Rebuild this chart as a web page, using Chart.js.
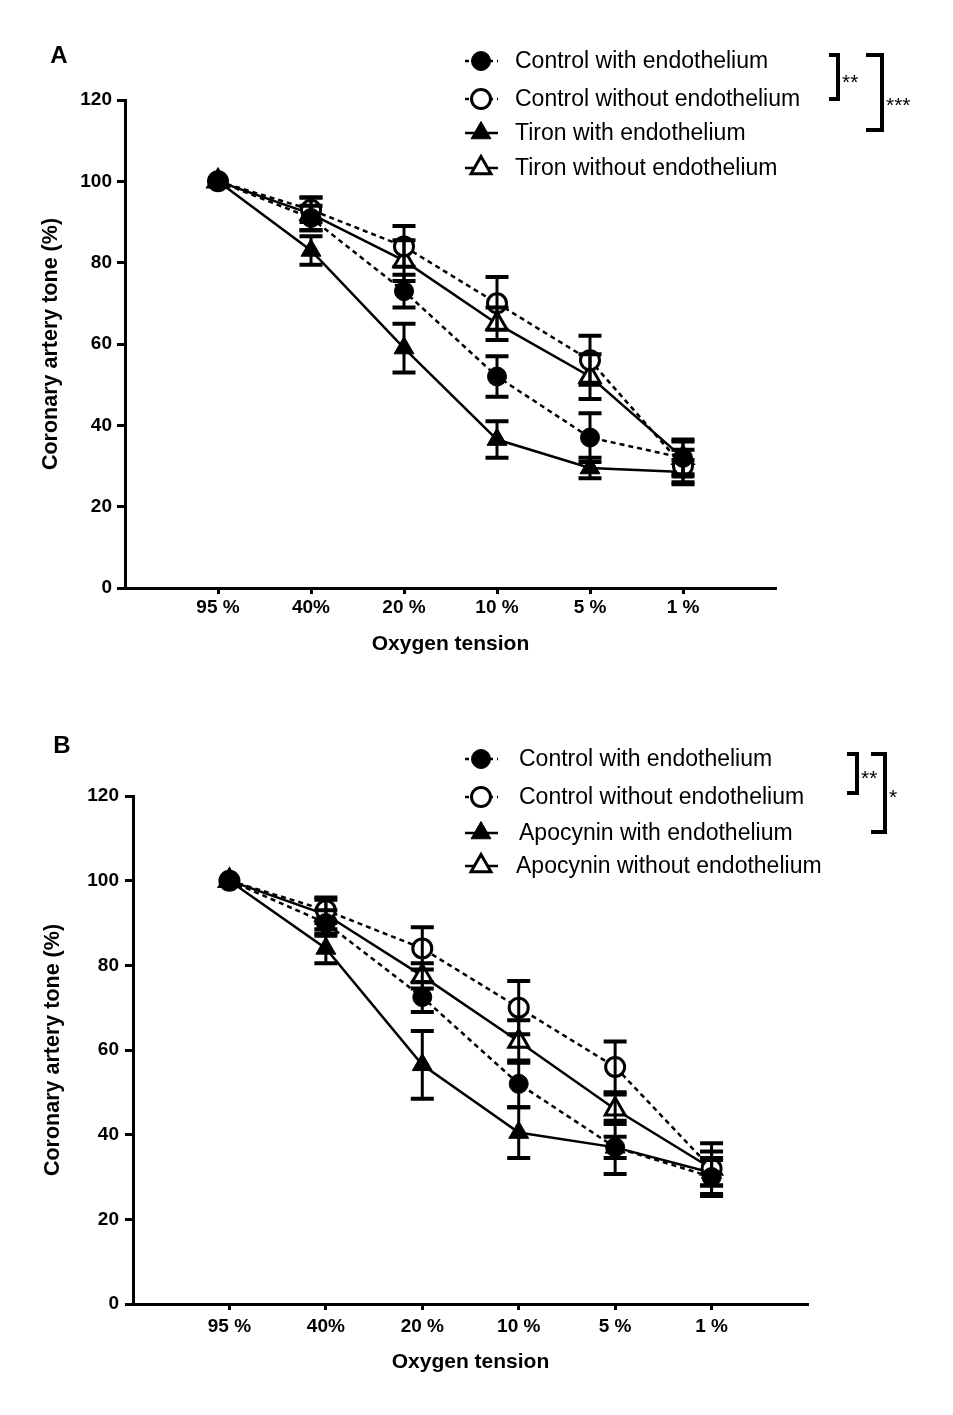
<!DOCTYPE html>
<html>
<head>
<meta charset="utf-8">
<script src="https://cdn.jsdelivr.net/npm/chart.js@4.4.1/dist/chart.umd.min.js"></script>
<style>
  body { margin: 0; background: #fff; width: 953px; height: 1415px; position: relative; overflow: hidden; }
  .box { position: absolute; left: 0; width: 953px; }
</style>
</head>
<body>
<div class="box" style="top:0;height:700px"><canvas id="chartA"></canvas></div>
<div class="box" style="top:700px;height:715px"><canvas id="chartB"></canvas></div>
<script>
// x categories (oxygen tension)
const oxygenLabels = ['95 %', '40%', '20 %', '10 %', '5 %', '1 %'];
const yTickValues = [0, 20, 40, 60, 80, 100, 120];

// panel A - means and SEM
const ctrlWithA = [100, 91, 73, 52, 37, 32];
const ctrlWithErrA = [0, 3, 4, 5, 6, 4];
const ctrlWithoutA = [100, 93, 84, 70, 56, 30];
const ctrlWithoutErrA = [0, 3, 5, 6.5, 6, 4];
const tironWith = [100, 83, 59, 36.5, 29.5, 28.5];
const tironWithErr = [0, 3.5, 6, 4.5, 2.5, 3];
const tironWithout = [100, 92, 80.5, 65, 52, 32];
const tironWithoutErr = [0, 4, 5, 4, 5.5, 4.5];

// panel B - means and SEM
const ctrlWithB = [100, 90, 72.5, 52, 37, 30];
const ctrlWithErrB = [0, 3, 3.5, 5.5, 6.3, 4.5];
const ctrlWithoutB = [100, 93, 84, 70, 56, 32];
const ctrlWithoutErrB = [0, 3, 5, 6.3, 6, 4];
const apoWith = [100, 84, 56.5, 40.5, 37, 31];
const apoWithErr = [0, 3.5, 8, 6, 2.5, 3];
const apoWithout = [100, 92, 77.5, 62, 46, 32];
const apoWithoutErr = [0, 3.5, 3, 5, 3.5, 6];

const FONT = "'Liberation Sans', Arial, sans-serif";

function toPoints(arr) {
  return arr.map((v, i) => ({ x: i + 1, y: v }));
}

function series(label, values, errors, style) {
  const open = style.open;
  return {
    label: label,
    data: toPoints(values),
    errors: errors,
    borderColor: '#000',
    borderWidth: 2.5,
    borderDash: style.dashed ? [5, 4] : [],
    pointStyle: style.shape,
    pointRadius: style.shape === 'triangle' ? 11.5 : 9.5,
    pointBackgroundColor: open ? '#fff' : '#000',
    pointBorderColor: '#000',
    pointBorderWidth: open ? 3 : 1,
    fill: false,
    tension: 0
  };
}

// error bars drawn through the chart's own scales
const errorBars = {
  id: 'errorBars',
  afterDatasetsDraw(chart) {
    const ctx = chart.ctx;
    const xs = chart.scales.x, ys = chart.scales.y;
    ctx.save();
    ctx.strokeStyle = '#000';
    chart.data.datasets.forEach(ds => {
      ds.data.forEach((p, i) => {
        const e = ds.errors[i];
        if (!e) return;
        const x = xs.getPixelForValue(p.x);
        const y1 = ys.getPixelForValue(p.y + e);
        const y2 = ys.getPixelForValue(p.y - e);
        ctx.lineWidth = 3;
        ctx.beginPath();
        ctx.moveTo(x, y1); ctx.lineTo(x, y2);
        ctx.stroke();
        ctx.lineWidth = 4;
        ctx.beginPath();
        ctx.moveTo(x - 11.5, y1); ctx.lineTo(x + 11.5, y1);
        ctx.moveTo(x - 11.5, y2); ctx.lineTo(x + 11.5, y2);
        ctx.stroke();
      });
    });
    ctx.restore();
  }
};

// panel letter, legend and significance brackets
const decor = {
  id: 'decor',
  afterDraw(chart, args, opts) {
    const ctx = chart.ctx;
    ctx.save();
    ctx.fillStyle = '#000';
    ctx.font = 'bold 24px ' + FONT;
    ctx.textAlign = 'center';
    ctx.textBaseline = 'middle';
    ctx.fillText(opts.letter, opts.letterX, opts.letterY);

    // legend
    chart.data.datasets.forEach((ds, i) => {
      const row = opts.rows[i];
      ctx.strokeStyle = '#000';
      ctx.lineWidth = 2.5;
      ctx.setLineDash(ds.borderDash.length ? [4, 4] : []);
      ctx.beginPath();
      ctx.moveTo(opts.markX - 16, row.y);
      ctx.lineTo(opts.markX + 17, row.y);
      ctx.stroke();
      ctx.setLineDash([]);
      ctx.fillStyle = ds.pointBackgroundColor;
      ctx.lineWidth = ds.pointBorderWidth;
      Chart.helpers.drawPoint(ctx, {
        pointStyle: ds.pointStyle,
        radius: ds.pointRadius,
        rotation: 0,
        borderWidth: ds.pointBorderWidth
      }, opts.markX, row.y);
      ctx.fillStyle = '#000';
      ctx.font = '23px ' + FONT;
      ctx.textAlign = 'left';
      ctx.textBaseline = 'middle';
      ctx.fillText(ds.label, row.textX, row.y + 1);
    });

    // brackets
    ctx.lineWidth = 4;
    ctx.strokeStyle = '#000';
    opts.brackets.forEach(b => {
      ctx.beginPath();
      ctx.moveTo(b.armX, b.top);
      ctx.lineTo(b.x, b.top);
      ctx.lineTo(b.x, b.bottom);
      ctx.lineTo(b.armX, b.bottom);
      ctx.stroke();
      ctx.font = '21px ' + FONT;
      ctx.textAlign = 'left';
      ctx.textBaseline = 'alphabetic';
      ctx.fillText(b.stars, b.x + 4, b.starY);
    });
    ctx.restore();
  }
};

function makeChart(id, datasets, geo, decorOpts) {
  return new Chart(document.getElementById(id), {
    type: 'line',
    data: { datasets: datasets },
    options: {
      responsive: true,
      maintainAspectRatio: false,
      animation: false,
      layout: { padding: { top: geo.top, left: 0, right: geo.right, bottom: 0 } },
      plugins: {
        legend: { display: false },
        tooltip: { enabled: false },
        decor: decorOpts
      },
      scales: {
        x: {
          type: 'linear',
          min: 0,
          max: 7,
          afterFit: s => { s.height = geo.xHeight; },
          afterBuildTicks: s => { s.ticks = oxygenLabels.map((l, i) => ({ value: i + 1 })); },
          ticks: {
            autoSkip: false,
            maxRotation: 0,
            padding: geo.xTickPad,
            color: '#000',
            font: { family: FONT, size: 19, weight: 'bold' },
            callback: v => oxygenLabels[v - 1]
          },
          grid: { drawOnChartArea: false, drawTicks: true, tickLength: 6, tickWidth: 3, tickColor: '#000' },
          border: { display: true, color: '#000', width: 3 },
          title: {
            display: true,
            text: 'Oxygen tension',
            color: '#000',
            font: { family: FONT, size: 21, weight: 'bold' },
            padding: { top: 0, bottom: geo.xTitlePad }
          }
        },
        y: {
          min: 0,
          max: 120,
          afterFit: s => { s.width = geo.yWidth; },
          afterBuildTicks: s => { s.ticks = yTickValues.map(v => ({ value: v })); },
          ticks: {
            padding: geo.yTickPad,
            color: '#000',
            font: { family: FONT, size: 19, weight: 'bold' }
          },
          grid: { drawOnChartArea: false, drawTicks: true, tickLength: 8, tickWidth: 3, tickColor: '#000' },
          border: { display: true, color: '#000', width: 3 },
          title: {
            display: true,
            text: 'Coronary artery tone (%)',
            color: '#000',
            font: { family: FONT, size: 21.5, weight: 'bold' },
            padding: { top: geo.yTitlePad, bottom: 0 }
          }
        }
      }
    },
    plugins: [errorBars, decor]
  });
}

makeChart('chartA', [
  series('Control with endothelium', ctrlWithA, ctrlWithErrA, { shape: 'circle', dashed: true, open: false }),
  series('Control without endothelium', ctrlWithoutA, ctrlWithoutErrA, { shape: 'circle', dashed: true, open: true }),
  series('Tiron with endothelium', tironWith, tironWithErr, { shape: 'triangle', dashed: false, open: false }),
  series('Tiron without endothelium', tironWithout, tironWithoutErr, { shape: 'triangle', dashed: false, open: true })
], { top: 100, right: 177, xHeight: 112, yWidth: 125, xTickPad: 2, yTickPad: 5, xTitlePad: 43, yTitlePad: 38 }, {
  letter: 'A', letterX: 59, letterY: 56, markX: 481,
  rows: [{ y: 61, textX: 515 }, { y: 99, textX: 515 }, { y: 133, textX: 515 }, { y: 168, textX: 515 }],
  brackets: [
    { x: 838, armX: 829, top: 55, bottom: 99, stars: '**', starY: 89 },
    { x: 882, armX: 866, top: 55, bottom: 130, stars: '***', starY: 112 }
  ]
});

makeChart('chartB', [
  series('Control with endothelium', ctrlWithB, ctrlWithErrB, { shape: 'circle', dashed: true, open: false }),
  series('Control without endothelium', ctrlWithoutB, ctrlWithoutErrB, { shape: 'circle', dashed: true, open: true }),
  series('Apocynin with endothelium', apoWith, apoWithErr, { shape: 'triangle', dashed: false, open: false }),
  series('Apocynin without endothelium', apoWithout, apoWithoutErr, { shape: 'triangle', dashed: false, open: true })
], { top: 96, right: 145, xHeight: 111, yWidth: 133, xTickPad: 5, yTickPad: 6, xTitlePad: 40, yTitlePad: 40 }, {
  letter: 'B', letterX: 62, letterY: 46, markX: 481,
  rows: [{ y: 59, textX: 519 }, { y: 97, textX: 519 }, { y: 133, textX: 519 }, { y: 166, textX: 516 }],
  brackets: [
    { x: 857, armX: 847, top: 54, bottom: 93, stars: '**', starY: 85 },
    { x: 885, armX: 871, top: 54, bottom: 132, stars: '*', starY: 104 }
  ]
});
</script>
</body>
</html>
